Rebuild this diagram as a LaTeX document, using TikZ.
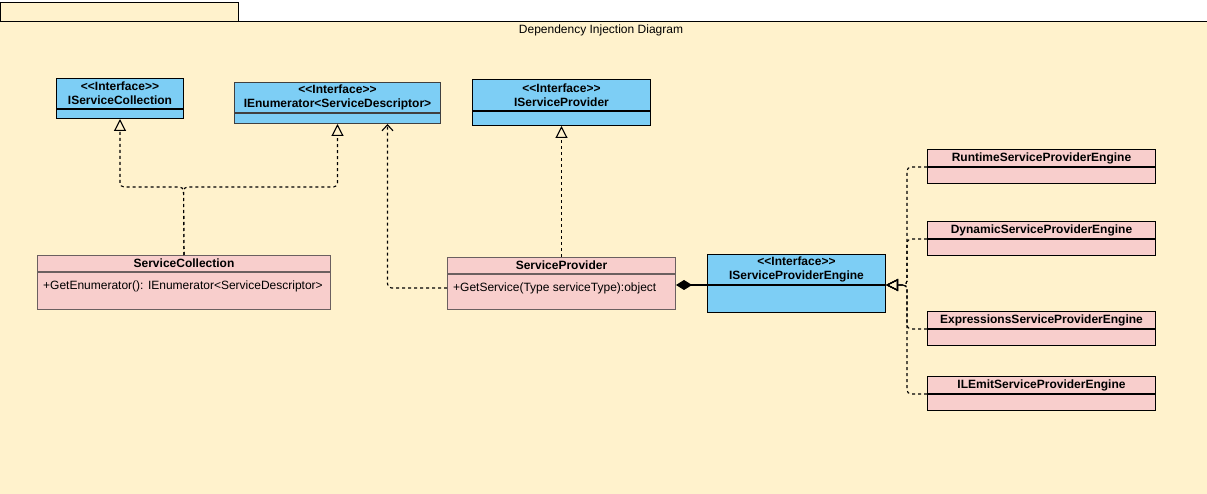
\documentclass[tikz,border=0pt]{standalone}
\usepackage{fontspec}
\setmainfont{Liberation Sans}[Ligatures=TeXOff]
\usetikzlibrary{arrows.meta}
\definecolor{panel}{HTML}{FFF2CC}
\definecolor{ifblue}{HTML}{7DCEF5}
\definecolor{clspink}{HTML}{F8CECC}
\definecolor{clsedge}{HTML}{6B6060}

\begin{document}
\begin{tikzpicture}[x=1pt, y=-1pt,
		box/.style={draw, anchor=north west, inner sep=0pt, line width=1pt},
		iface/.style={box, fill=ifblue, align=center, font={\fontsize{12}{14}\selectfont\bfseries}},
		klass/.style={box, fill=clspink, font={\fontsize{12}{14}\selectfont\bfseries}},
		member/.style={anchor=west, inner sep=0pt, font=\fontsize{12}{14}\selectfont},
		dep/.style={line width=1.1pt, dash pattern=on 3pt off 3pt, rounded corners=4pt},
		realize/.style={dep, -{Triangle[open, length=12pt, width=12pt]}},
		uses/.style={dep, -{Straight Barb[length=6pt, width=11pt]}},
		owns/.style={line width=1.1pt, {Diamond[length=16pt, width=10pt]}-}]
						\useasboundingbox (0, 0) rectangle (1207, 494);
						\fill[white] (0, 0) rectangle (1207, 494);
						\draw[fill=panel, line width=0.8pt] (0, 2) rectangle (238, 21);
						\fill[panel] (0, 21) rectangle (1207, 494);
						\draw[line width=0.8pt] (0, 21) -- (1207, 21);
						\node[member, anchor=center] (title) at (601, 30) {Dependency Injection Diagram};
						
						\node[iface, minimum width=127pt, minimum height=30pt] (isc) at (56, 78) {<<Interface>>\\IServiceCollection};
						\node[iface, minimum width=127pt, minimum height=9pt] (isc-b) at (isc.south west) {};
						\node[iface, draw=black!75, minimum width=206pt, minimum height=30pt] (ienum) at (234, 82) {<<Interface>>\\IEnumerator<ServiceDescriptor>};
						\node[iface, draw=black!75, minimum width=206pt, minimum height=10pt] (ienum-b) at (ienum.south west) {};
						\node[iface, minimum width=178pt, minimum height=31pt] (isp) at (472, 79) {<<Interface>>\\IServiceProvider};
						\node[iface, minimum width=178pt, minimum height=14pt] (isp-b) at (isp.south west) {};
						\node[iface, minimum width=178pt, minimum height=30pt] (ise) at (707, 254) {<<Interface>>\\IServiceProviderEngine};
						\node[iface, minimum width=178pt, minimum height=27pt] (ise-b) at (ise.south west) {};
						
						\node[klass, draw=clsedge, minimum width=293pt, minimum height=16pt] (sc) at (37, 255) {ServiceCollection};
						\node[klass, draw=clsedge, minimum width=293pt, minimum height=37pt] (sc-m) at (sc.south west) {};
						\node[member] (sc-op) at ([xshift=6pt, yshift=-14pt]sc-m.north west) {+GetEnumerator(): IEnumerator<ServiceDescriptor>};
						\node[klass, draw=clsedge, minimum width=228pt, minimum height=16pt] (sp) at (447, 257) {ServiceProvider};
						\node[klass, draw=clsedge, minimum width=228pt, minimum height=35pt] (sp-m) at (sp.south west) {};
						\node[member] (sp-op) at ([xshift=6pt, yshift=-14pt]sp-m.north west) {+GetService(Type serviceType):object};
						
						\coordinate (sc-fork) at (183.5, 187);
						\coordinate (ienum-in) at ([xshift=50pt]ienum-b.south);
						\coordinate (hub) at ([xshift=21pt]ise.south east);
						
						\draw[realize] (sc.north) -- (sc-fork) -| (isc-b.south);
						\draw[realize] (sc.north) -- (sc-fork) -| (ienum-b.south);
						\draw[uses] (sp-m.west |- sp-op) -| (ienum-in);
						\draw[realize] (sp.north) -- (isp-b.south);
						\draw[owns] (sp.east |- ise.south) -- (ise.south west);
						
						\foreach \nm/\yy/\txt in {rt/149/RuntimeServiceProviderEngine, dyn/221/DynamicServiceProviderEngine, expr/311/ExpressionsServiceProviderEngine, ilemit/376/ILEmitServiceProviderEngine} {
							\node[klass, minimum width=228pt, minimum height=17pt] (\nm) at (927, \yy) {\txt};
							\node[klass, minimum width=228pt, minimum height=16pt] (\nm-b) at (\nm.south west) {};
							\draw[realize] (\nm.south west) -| (hub) -- (ise.south east);
						}
					\end{tikzpicture}
\end{document}
